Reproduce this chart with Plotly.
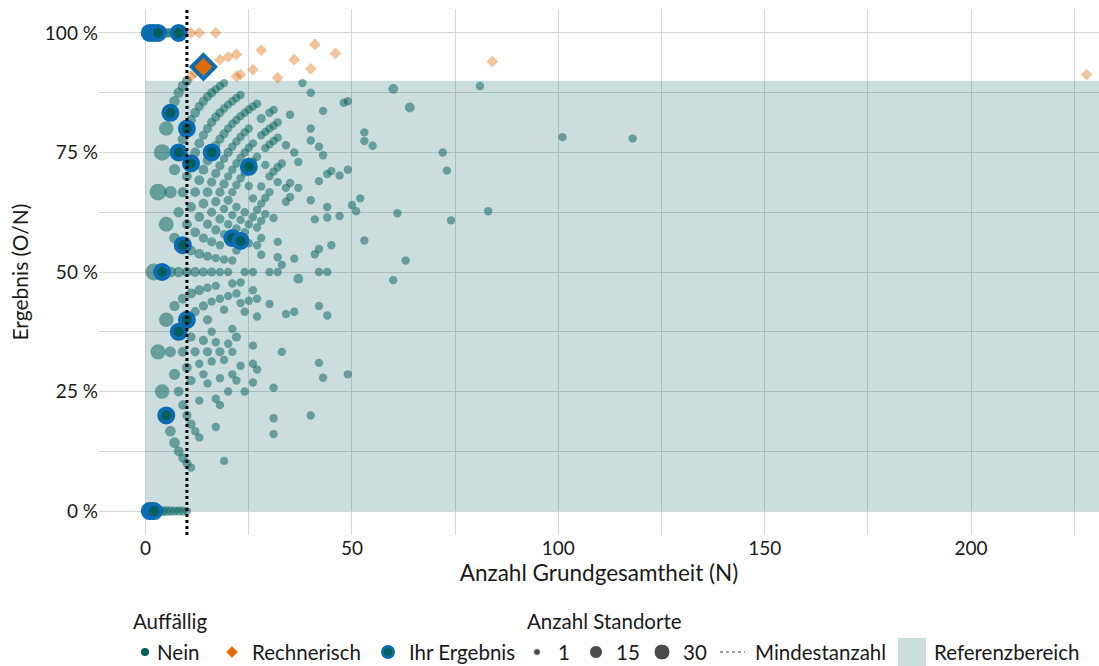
import math
import plotly.graph_objects as go

# "Nein" sites: N (Grundgesamtheit), result in %, number of sites (Anzahl Standorte)
nein_n = [
    1, 1,
    2, 2, 2,
    3, 3, 3, 3,
    4, 4, 4, 4, 4,
    5, 5, 5, 5, 5, 5,
    6, 6, 6, 6, 6, 6, 6,
    7, 7, 7, 7, 7, 7, 7, 7,
    8, 8, 8, 8, 8, 8, 8, 8, 8,
    9, 9, 9, 9, 9, 9, 9, 9, 9, 9,
    10, 10, 10, 10, 10, 10, 10, 10, 10, 10,
    11, 11, 11, 11, 11, 11, 11, 11, 11,
    12, 12, 12, 12, 12, 12, 12, 12,
    13, 13, 13, 13, 13, 13, 13, 13, 13,
    14, 14, 14, 14, 14, 14, 14, 14, 14,
    15, 15, 15, 15, 15, 15, 15, 15, 15, 15,
    16, 16, 16, 16, 16, 16, 16, 16, 16, 16,
    17, 17, 17, 17, 17, 17, 17, 17, 17, 17, 17,
    18, 18, 18, 18, 18, 18, 18, 18, 18, 18, 18, 18,
    19, 19, 19, 19, 19, 19, 19, 19, 19, 19, 19,
    20, 20, 20, 20, 20, 20, 20, 20, 20, 20,
    21, 21, 21, 21, 21, 21, 21, 21, 21, 21, 21,
    22, 22, 22, 22, 22, 22, 22, 22, 22, 22, 22,
    23, 23, 23, 23, 23, 23, 23, 23, 23,
    24, 24, 24, 24, 24, 24, 24, 24, 24,
    25, 25, 25, 25, 25, 25, 25,
    26, 26, 26, 26, 26, 26, 26, 26, 26, 26,
    27, 27, 27, 27, 27, 27, 27, 27,
    28, 28, 28, 28, 28, 28, 28,
    29, 29, 29, 29, 29,
    30, 30, 30, 30, 30, 30, 30,
    31, 31, 31, 31, 31, 31, 31, 31,
    32, 32, 32, 32, 32, 32, 32,
    33, 33, 33,
    34, 34, 34, 34,
    35, 35, 35,
    36, 36, 36,
    37, 37, 37,
    38,
    40, 40, 40, 40, 40,
    41, 41,
    42, 42, 42, 42, 42, 42,
    43, 43, 43,
    44, 44, 44, 44, 44,
    45, 45,
    47, 47,
    48,
    49, 49, 49,
    50, 51, 52,
    53, 53, 53,
    55,
    60, 60,
    61, 63, 64, 72, 73, 74, 81, 83, 101, 118,
]
nein_pct = [
    100, 0,
    100, 50, 0,
    100, 66.7, 33.3, 0,
    100, 75, 50, 25, 0,
    100, 80, 60, 40, 20, 0,
    100, 83.3, 66.7, 50, 33.3, 16.7, 0,
    100, 85.7, 71.4, 57.1, 42.9, 28.6, 14.3, 0,
    100, 87.5, 75, 62.5, 50, 37.5, 25, 12.5, 0,
    100, 88.9, 77.8, 66.7, 55.6, 44.4, 33.3, 22.2, 11.1, 0,
    90, 80, 70, 60, 50, 40, 30, 20, 10, 0,
    81.8, 72.7, 63.6, 54.5, 45.5, 36.4, 27.3, 18.2, 9.1,
    83.3, 75, 66.7, 58.3, 50, 41.7, 33.3, 16.7,
    84.6, 76.9, 69.2, 61.5, 53.8, 46.2, 30.8, 23.1, 15.4,
    85.7, 78.6, 71.4, 64.3, 57.1, 50, 42.9, 35.7, 28.6,
    86.7, 80, 73.3, 66.7, 60, 53.3, 46.7, 40, 33.3, 26.7,
    87.5, 81.3, 75, 68.8, 62.5, 56.3, 50, 43.8, 37.5, 31.3,
    88.2, 82.4, 76.5, 70.6, 64.7, 58.8, 52.9, 47.1, 35.3, 23.5, 17.6,
    88.9, 83.3, 77.8, 72.2, 66.7, 61.1, 55.6, 50, 44.4, 33.3, 27.8, 22.2,
    89.5, 84.2, 78.9, 73.7, 68.4, 63.2, 57.9, 52.6, 42.1, 31.6, 10.5,
    85, 80, 75, 70, 65, 60, 50, 45, 35, 25,
    85.7, 81, 76.2, 71.4, 66.7, 61.9, 52.4, 47.6, 38.1, 33.3, 28.6,
    86.4, 81.8, 77.3, 72.7, 68.2, 63.6, 59.1, 54.5, 45.5, 36.4, 27.3,
    87, 82.6, 78.3, 73.9, 69.6, 60.9, 47.8, 43.5, 30.4,
    83.3, 79.2, 75, 70.8, 62.5, 58.3, 50, 41.7, 25,
    84, 80, 76, 68, 60, 56, 44,
    84.6, 76.9, 73.1, 65.4, 61.5, 50, 46.2, 34.6, 30.8, 26.9,
    85.2, 74.1, 63, 59.3, 55.6, 44.4, 40.7, 29.6,
    82.1, 78.6, 67.9, 64.3, 60.7, 57.1, 53.6,
    79.3, 75.9, 72.4, 65.5, 62.1,
    83.3, 80, 76.7, 70, 66.7, 50, 43.3,
    83.9, 80.6, 77.4, 71, 61.3, 25.8, 19.4, 16.1,
    81.3, 78.1, 71.9, 68.8, 56.3, 53.1, 50,
    72.7, 51.5, 33.3,
    76.5, 67.6, 64.7, 41.2,
    82.9, 68.6, 65.7,
    75, 52.8, 41.7,
    73, 67.6, 48.6,
    89.5,
    87.5, 80, 77.5, 65, 20,
    61, 53.7,
    76.2, 69, 54.8, 50, 42.9, 31,
    83.7, 74.4, 27.9,
    70.5, 63.6, 61.4, 50, 40.9,
    71.1, 55.6,
    70.2, 61.7,
    85.4,
    85.7, 71.4, 28.6,
    64, 62.7, 65.4,
    79.2, 77.4, 56.6,
    76.4,
    88.3, 48.3,
    62.3, 52.4, 84.4, 75, 71.2, 60.8, 88.9, 62.7, 78.2, 77.9,
]
nein_cnt = [
    30, 30,
    20, 30, 20,
    10, 30, 20, 8,
    5, 28, 14, 18, 4,
    4, 18, 20, 18, 6, 3,
    3, 6, 10, 6, 6, 5, 3,
    2, 5, 6, 5, 4, 6, 5, 2,
    2, 4, 4, 4, 4, 3, 3, 3, 2,
    1, 4, 4, 4, 3, 3, 3, 2, 2, 2,
    3, 3, 3, 3, 3, 2, 3, 2, 2, 1,
    3, 3, 3, 3, 3, 2, 2, 2, 1,
    3, 3, 3, 3, 3, 2, 2, 1,
    2, 3, 3, 3, 3, 3, 1, 1, 1,
    2, 2, 3, 3, 2, 2, 2, 2, 1,
    2, 2, 3, 3, 2, 2, 1, 2, 2, 1,
    2, 2, 2, 2, 2, 2, 2, 1, 1, 1,
    1, 2, 2, 2, 2, 2, 1, 1, 1, 1, 1,
    1, 2, 2, 2, 2, 2, 1, 1, 1, 2, 1, 1,
    1, 1, 2, 1, 2, 1, 1, 1, 1, 1, 1,
    1, 1, 2, 1, 2, 1, 1, 1, 1, 1,
    1, 1, 1, 1, 1, 1, 1, 1, 1, 1, 1,
    1, 1, 1, 1, 1, 1, 1, 1, 1, 2, 1,
    1, 1, 1, 1, 1, 1, 1, 1, 1,
    1, 1, 1, 1, 1, 1, 1, 1, 1,
    1, 1, 1, 1, 1, 1, 1,
    1, 1, 1, 1, 1, 1, 1, 1, 1, 1,
    1, 1, 1, 1, 1, 1, 1, 1,
    2, 1, 1, 1, 1, 1, 1,
    1, 1, 1, 1, 1,
    1, 1, 1, 1, 1, 1, 1,
    1, 1, 1, 1, 1, 1, 1, 1,
    1, 1, 1, 1, 1, 1, 1,
    1, 1, 1,
    1, 1, 1, 1,
    1, 1, 1,
    1, 1, 1,
    1, 1, 3,
    1,
    1, 1, 1, 1, 1,
    1, 1,
    1, 1, 1, 1, 1, 1,
    1, 1, 1,
    1, 1, 1, 1, 1,
    1, 1,
    1, 1,
    1,
    1, 1, 1,
    1, 1, 1,
    1, 1, 1,
    1,
    3, 1,
    1, 1, 3, 1, 1, 1, 1, 1, 1, 1,
]
assert len(nein_n) == len(nein_pct) == len(nein_cnt)

# "Rechnerisch" auffällige Standorte (outside reference area, N >= 10)
rech_n = [11, 13, 17, 11, 12, 18, 20, 22, 22, 23, 26, 28, 32, 36, 40, 41, 46, 84, 228]
rech_pct = [100, 100, 100, 90.9, 91.7, 94.4, 95, 95.5, 90.9, 91.3, 92.3, 96.4, 90.6, 94.4, 92.5, 97.6, 95.7, 94, 91.3]

# Ihr Ergebnis
ihr_n = [1, 2, 3, 8, 6, 10, 8, 16, 11, 25, 21, 23, 9, 4, 10, 8, 5, 1, 2]
ihr_pct = [100, 100, 100, 100, 83.3, 80, 75, 75, 72.7, 72, 57.1, 56.5, 55.6, 50, 40, 37.5, 20, 0, 0]
ihr_rech_n = [14]
ihr_rech_pct = [92.9]

ref_lower, ref_upper = 0, 90
mindestanzahl = 10

TEAL = "#005f5c"
ORANGE = "#e06c00"
BLUE = "#0a6cb4"
REF_FILL = "rgba(0,85,90,0.2)"
GRID = "#d6d6d6"
FONT = "Lato, sans-serif"
TXT = "#1a1a1a"


def dot_size(c):
    return 6.5 + 1.9 * math.sqrt(c)


fig = go.Figure()

fig.add_trace(go.Scatter(
    x=nein_n, y=nein_pct, mode="markers",
    marker=dict(color=TEAL, opacity=0.5, size=[dot_size(c) for c in nein_cnt], line=dict(width=0)),
    showlegend=False, hoverinfo="x+y",
))
fig.add_trace(go.Scatter(
    x=rech_n, y=rech_pct, mode="markers",
    marker=dict(color=ORANGE, opacity=0.4, symbol="diamond", size=9, line=dict(width=0)),
    showlegend=False, hoverinfo="x+y",
))
fig.add_trace(go.Scatter(
    x=ihr_n, y=ihr_pct, mode="markers",
    marker=dict(color=TEAL, size=14, line=dict(color=BLUE, width=4)),
    showlegend=False, hoverinfo="x+y",
))
fig.add_trace(go.Scatter(
    x=ihr_rech_n, y=ihr_rech_pct, mode="markers",
    marker=dict(color=ORANGE, symbol="diamond", size=18, line=dict(color=BLUE, width=4)),
    showlegend=False, hoverinfo="x+y",
))

# reference area and Mindestanzahl
fig.add_shape(type="rect", xref="x", yref="y", x0=ref_lower, x1=240, y0=ref_lower, y1=ref_upper,
              fillcolor=REF_FILL, line=dict(width=0), layer="between")
fig.add_shape(type="line", xref="x", yref="y domain", x0=mindestanzahl, x1=mindestanzahl, y0=0, y1=1,
              line=dict(color="black", width=3, dash="dot"), layer="above")

# --- manual legend drawn on a pixel-scaled helper axis ---
leg_y = 652
fig.add_trace(go.Scatter(
    x=[145], y=[leg_y], xaxis="x2", yaxis="y2", mode="markers",
    marker=dict(color=TEAL, size=8), showlegend=False, hoverinfo="skip"))
fig.add_trace(go.Scatter(
    x=[232], y=[leg_y], xaxis="x2", yaxis="y2", mode="markers",
    marker=dict(color=ORANGE, symbol="diamond", size=9), showlegend=False, hoverinfo="skip"))
fig.add_trace(go.Scatter(
    x=[388], y=[leg_y], xaxis="x2", yaxis="y2", mode="markers",
    marker=dict(color=TEAL, size=11, line=dict(color=BLUE, width=3)), showlegend=False, hoverinfo="skip"))
fig.add_trace(go.Scatter(
    x=[537, 596, 662], y=[leg_y] * 3, xaxis="x2", yaxis="y2", mode="markers",
    marker=dict(color="black", size=[7, 13, 16]),
    showlegend=False, hoverinfo="skip"))
fig.add_shape(type="line", xref="x2", yref="y2", x0=720, x1=745, y0=leg_y, y1=leg_y,
              line=dict(color="#444444", width=1.2, dash="dot"))
fig.add_shape(type="rect", xref="x2", yref="y2", x0=898, x1=926, y0=638, y1=666,
              fillcolor=REF_FILL, line=dict(width=0))

legend_texts = [
    (131, 621, "Auffällig"), (525, 621, "Anzahl Standorte"),
    (155, leg_y, "Nein"), (250, leg_y, "Rechnerisch"), (407, leg_y, "Ihr Ergebnis"),
    (556, leg_y, "1"), (614, leg_y, "15"), (681, leg_y, "30"),
    (753, leg_y, "Mindestanzahl"), (932, leg_y, "Referenzbereich"),
]
for lx, ly, txt in legend_texts:
    fig.add_annotation(x=lx, y=ly, xref="x2", yref="y2", text=txt, showarrow=False,
                       xanchor="left", yanchor="middle", font=dict(family=FONT, size=20.5, color=TXT))

fig.update_layout(
    width=1099, height=666,
    margin=dict(l=99, r=0, t=9, b=0),
    plot_bgcolor="white", paper_bgcolor="white",
    font=dict(family=FONT, size=18, color=TXT),
    xaxis=dict(
        range=[-11.3, 231], domain=[0, 1], anchor="y", automargin=False,
        tickvals=[0, 50, 100, 150, 200], showgrid=True, gridcolor=GRID, gridwidth=1.3,
        minor=dict(tickvals=[25, 75, 125, 175, 225], showgrid=True, gridcolor=GRID, gridwidth=1.3),
        zeroline=False, showline=False, ticks="",
        title=dict(text="Anzahl Grundgesamtheit (N)", standoff=6, font=dict(size=22.5)),
        tickfont=dict(size=19),
    ),
    yaxis=dict(
        range=[-5, 105], domain=[131 / 657, 1], anchor="x", automargin=False,
        tickvals=[0, 25, 50, 75, 100], ticktext=["0 %", "25 %", "50 %", "75 %", "100 %"],
        showgrid=True, gridcolor=GRID, gridwidth=1.3,
        minor=dict(tickvals=[12.5, 37.5, 62.5, 87.5], showgrid=True, gridcolor=GRID, gridwidth=1.3),
        zeroline=False, showline=False, ticks="",
        title=dict(text="Ergebnis (O/N)", standoff=10, font=dict(size=21)),
        tickfont=dict(size=19),
    ),
    xaxis2=dict(range=[99, 1099], domain=[0, 1], anchor="y2", visible=False, fixedrange=True),
    yaxis2=dict(range=[666, 607], domain=[0, 59 / 657], anchor="x2", visible=False, fixedrange=True),
)

# the page's default body margin would shift the figure; remove it
fig.write_html("out.html", config={"displayModeBar": False},
               post_script="document.body.style.margin='0';document.body.style.overflow='hidden';")
